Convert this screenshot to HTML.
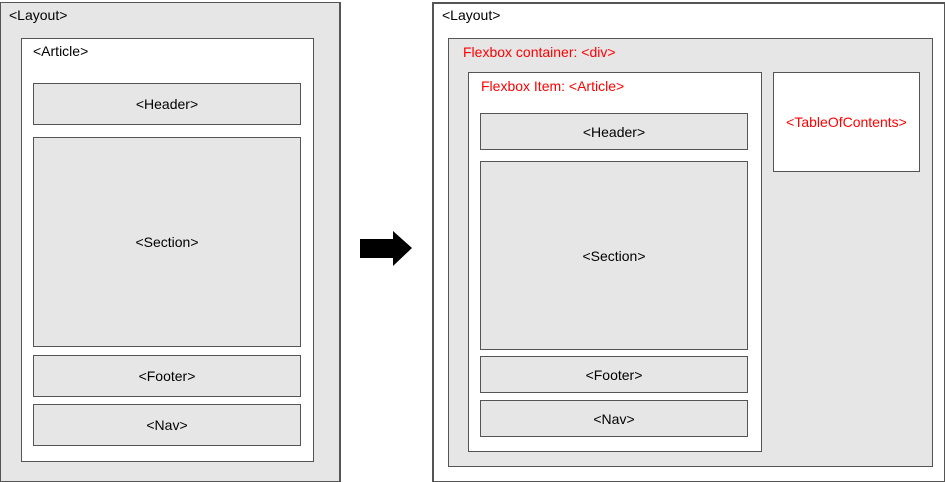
<!DOCTYPE html>
<html><head><style>
body{margin:0;width:945px;height:482px;background:#fff;position:relative;overflow:hidden;font-family:"Liberation Sans",sans-serif;font-size:14px;}
.b{position:absolute;box-sizing:border-box;border:1px solid #555;}
.g{background:#e6e6e6;}
.w{background:#fff;}
.c{display:flex;align-items:center;justify-content:center;}
.t{position:absolute;white-space:nowrap;}
.r{color:#f00;}
</style></head><body>
<div class="b g" style="left:0;top:2px;width:341px;height:480px;border-width:1px 2px 1px 1px"></div>
<div class="t" style="left:9px;top:7px">&lt;Layout&gt;</div>
<div class="b w" style="left:21px;top:38px;width:293px;height:424px"></div>
<div class="t" style="left:33px;top:43px">&lt;Article&gt;</div>
<div class="b g c" style="left:33px;top:83px;width:268px;height:42px">&lt;Header&gt;</div>
<div class="b g c" style="left:33px;top:137px;width:268px;height:210px">&lt;Section&gt;</div>
<div class="b g c" style="left:33px;top:355px;width:268px;height:42px">&lt;Footer&gt;</div>
<div class="b g c" style="left:33px;top:404px;width:268px;height:42px">&lt;Nav&gt;</div>

<svg style="position:absolute;left:0;top:0" width="945" height="482"><polygon points="360,239 393,239 393,231 412,248 393,266 393,258 360,258" fill="#000"/></svg>

<div class="b w" style="left:432px;top:2px;width:513px;height:480px;border-width:2px 1px 1px 2px"></div>
<div class="t" style="left:442px;top:7px">&lt;Layout&gt;</div>
<div class="b g" style="left:448px;top:38px;width:485px;height:429px"></div>
<div class="t r" style="left:463px;top:44px">Flexbox container: &lt;div&gt;</div>
<div class="b w" style="left:468px;top:72px;width:294px;height:380px"></div>
<div class="t r" style="left:481px;top:78px">Flexbox Item: &lt;Article&gt;</div>
<div class="b g c" style="left:480px;top:113px;width:268px;height:37px">&lt;Header&gt;</div>
<div class="b g c" style="left:480px;top:161px;width:268px;height:189px">&lt;Section&gt;</div>
<div class="b g c" style="left:480px;top:356px;width:268px;height:37px">&lt;Footer&gt;</div>
<div class="b g c" style="left:480px;top:400px;width:268px;height:37px">&lt;Nav&gt;</div>
<div class="b w c r" style="left:773px;top:72px;width:147px;height:100px">&lt;TableOfContents&gt;</div>
</body></html>
